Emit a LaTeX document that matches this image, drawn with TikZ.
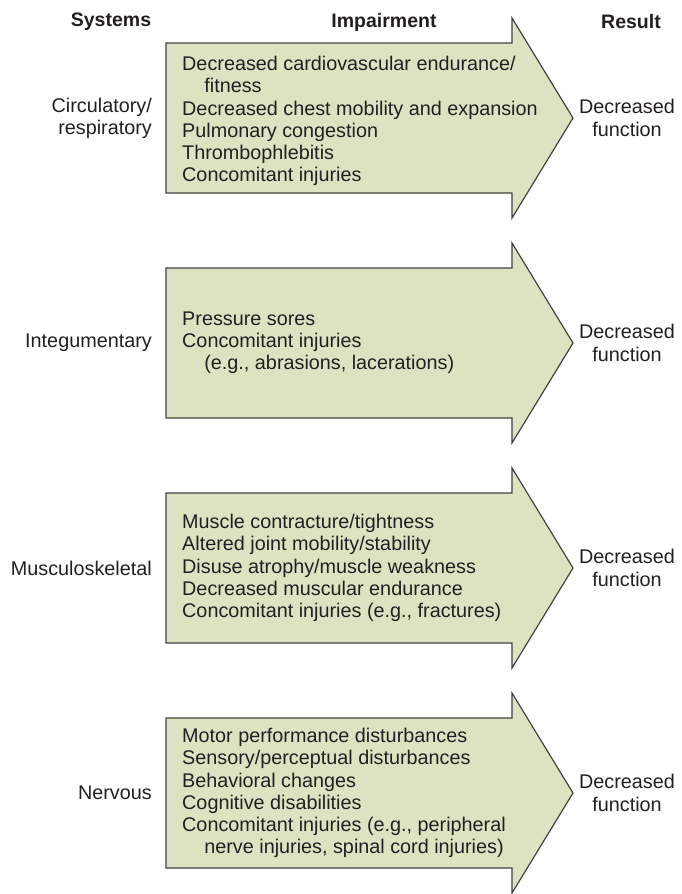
\documentclass[tikz,border=0pt]{standalone}
\usepackage{fontspec}
\setmainfont{Liberation Sans}
\usepackage{xcolor}
\usetikzlibrary{positioning, calc}
\definecolor{arrowfill}{RGB}{221,227,194}
\definecolor{ink}{RGB}{35,31,32}

\begin{document}
\begin{tikzpicture}[x=1pt,y=-1pt,text=ink,
  every node/.style={font=\fontsize{19.8}{22.2}\selectfont,inner sep=0pt},
  hdr/.style={font=\fontsize{19.5}{22.2}\selectfont\bfseries},
  fatarrow/.style={draw=ink!85,line width=1.2pt,fill=arrowfill,line join=miter},
  sys/.style={anchor=east,align=right},
  items/.style={anchor=west,align=left},
  res/.style={align=center}]
\useasboundingbox (0,0) rectangle (681,894);
% one big arrow per system
\foreach \y in {118,343,568,793}
  \draw[fatarrow] (166,\y-75) -- (512,\y-75) -- (512,\y-100) -- (573,\y)
    -- (512,\y+100) -- (512,\y+75) -- (166,\y+75) -- cycle;
% column heads
\node[hdr] (systems) at (111,22) {Systems};
\node[hdr] (impair) at (384,22) {Impairment};
\node[hdr] (result) at (631,22) {Result};
% systems
\node[sys] (sys1) at (152,118) {Circulatory/\\respiratory};
\node[sys] (sys2) at (152,343) {Integumentary};
\node[sys] (sys3) at (152,568) {Musculoskeletal};
\node[sys] (sys4) at (152,793) {Nervous};
% impairments
\node[items] (imp1) at (182,121) {Decreased cardiovascular endurance/\\\hspace*{1.12em}fitness\\Decreased chest mobility and expansion\\Pulmonary congestion\\Thrombophlebitis\\Concomitant injuries};
\node[items,right=30pt of sys2] (imp2) {Pressure sores\\Concomitant injuries\\\hspace*{1.12em}(e.g., abrasions, lacerations)};
\node[items,right=30pt of sys3] (imp3) {Muscle contracture/tightness\\Altered joint mobility/stability\\Disuse atrophy/muscle weakness\\Decreased muscular endurance\\Concomitant injuries (e.g., fractures)};
\node[items,right=30pt of sys4] (imp4) {Motor performance disturbances\\Sensory/perceptual disturbances\\Behavioral changes\\Cognitive disabilities\\Concomitant injuries (e.g., peripheral\\\hspace*{1.12em}nerve injuries, spinal cord injuries)};
% results
\node[res] (res1) at (627,118) {Decreased\\function};
\node[res] (res2) at (627,343) {Decreased\\function};
\node[res] (res3) at (627,568) {Decreased\\function};
\node[res] (res4) at (627,793) {Decreased\\function};
\end{tikzpicture}
\end{document}
